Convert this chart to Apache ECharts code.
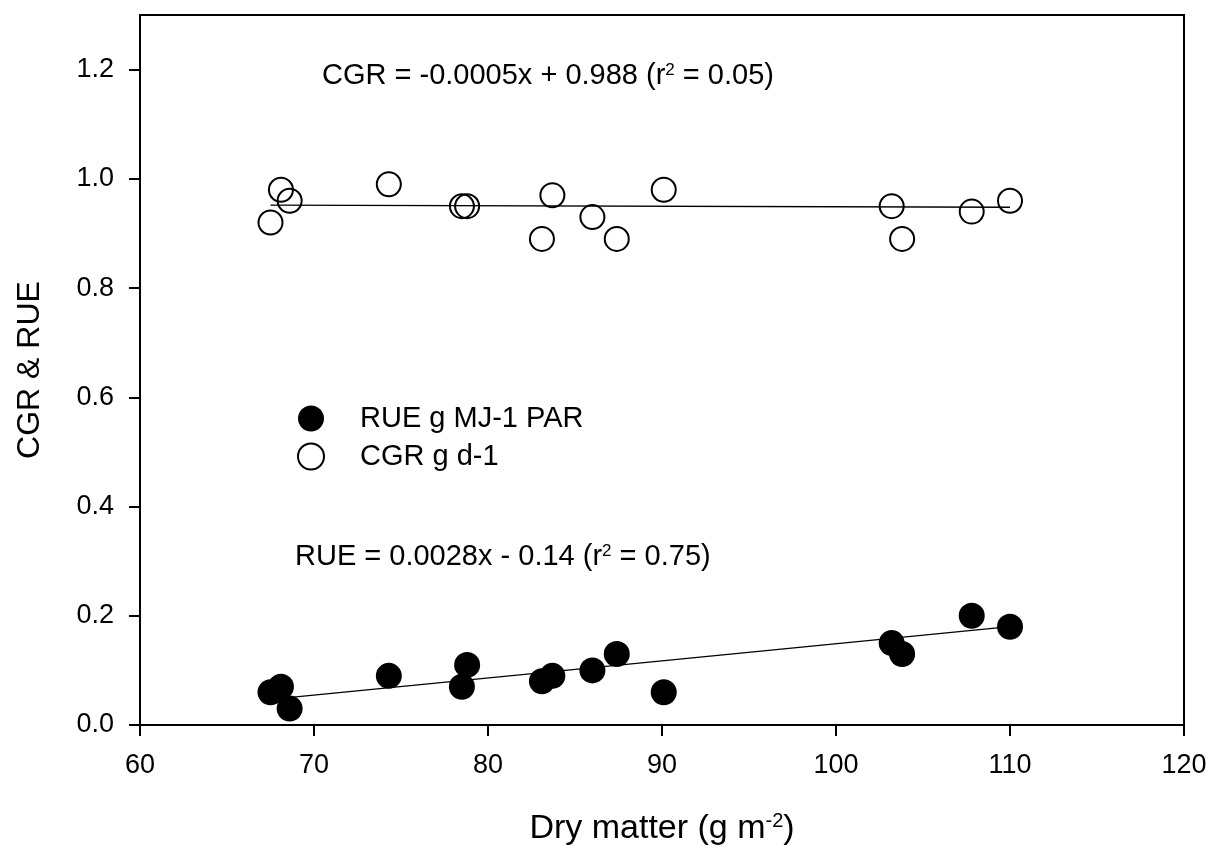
<!DOCTYPE html>
<html>
<head>
<meta charset="utf-8">
<script src="https://cdn.jsdelivr.net/npm/echarts@6/dist/echarts.min.js"></script>
<style>
html,body{margin:0;padding:0;background:#fff;}
#chart{width:1214px;height:851px;}
</style>
</head>
<body>
<div id="chart"></div>
<script>
// Data
const dryMatter = [67.5, 68.1, 68.6, 74.3, 78.5, 78.8, 83.1, 83.7, 86.0, 87.4, 90.1, 103.2, 103.8, 107.8, 110.0];
const rueValues = [0.06, 0.07, 0.03, 0.09, 0.07, 0.11, 0.08, 0.09, 0.10, 0.13, 0.06, 0.15, 0.13, 0.20, 0.18];
const cgrValues = [0.92, 0.98, 0.96, 0.99, 0.95, 0.95, 0.89, 0.97, 0.93, 0.89, 0.98, 0.95, 0.89, 0.94, 0.96];
const rueFitX = [67.5, 110.0];
const rueFitY = [0.047, 0.180];
const cgrFitX = [67.5, 110.0];
const cgrFitY = [0.952, 0.948];
const xTicks = [60, 70, 80, 90, 100, 110, 120];
const yTicks = [0.0, 0.2, 0.4, 0.6, 0.8, 1.0, 1.2];
const seriesNames = ['RUE g MJ-1 PAR', 'CGR g d-1'];

const zip = (xs, ys) => xs.map((x, i) => [x, ys[i]]);
const FONT = '"Liberation Sans", Arial, Helvetica, sans-serif';

const chart = echarts.init(document.getElementById('chart'), null, {renderer: 'canvas'});
chart.setOption({
  animation: false,
  backgroundColor: '#fff',
  textStyle: {fontFamily: FONT, color: '#000'},
  grid: {left: 140, right: 30, top: 15, bottom: 123, show: true, borderColor: '#000', borderWidth: 2},
  xAxis: {
    type: 'value', min: 60, max: 120, interval: 10,
    axisLine: {show: true, lineStyle: {color: '#000', width: 2}},
    axisTick: {show: true, inside: false, length: 11, lineStyle: {color: '#000', width: 2}, customValues: xTicks},
    axisLabel: {color: '#000', fontSize: 27, fontFamily: FONT, margin: 27, customValues: xTicks},
    splitLine: {show: false},
    name: '{t|Dry matter (g m}{s|-2}{t|)}',
    nameLocation: 'middle', nameGap: 86,
    nameTextStyle: {
      rich: {
        t: {fontSize: 34, fontFamily: FONT, color: '#000', lineHeight: 36},
        s: {fontSize: 20, fontFamily: FONT, color: '#000', lineHeight: 24, verticalAlign: 'top'}
      }
    }
  },
  yAxis: {
    type: 'value', min: 0, max: 1.3,
    axisLine: {show: true, lineStyle: {color: '#000', width: 2}},
    axisTick: {show: true, inside: false, length: 11, lineStyle: {color: '#000', width: 2}, customValues: yTicks},
    axisLabel: {color: '#000', fontSize: 27, fontFamily: FONT, margin: 26, customValues: yTicks,
      formatter: v => v.toFixed(1)},
    splitLine: {show: false},
    name: 'CGR & RUE', nameLocation: 'middle', nameGap: 94,
    nameTextStyle: {fontSize: 32, fontFamily: FONT, color: '#000'}
  },
  legend: {
    orient: 'vertical', left: 292, top: 399,
    itemWidth: 88, itemHeight: 26, itemGap: 9,
    textStyle: {fontSize: 29, fontFamily: FONT, color: '#000'},
    data: [
      {name: seriesNames[0], icon: 'circle', itemStyle: {color: '#000', borderWidth: 0}},
      {name: seriesNames[1], icon: 'circle', itemStyle: {color: 'rgba(255,255,255,0)', borderColor: '#000', borderWidth: 2}}
    ]
  },
  graphic: [
    {type: 'text', x: 322, y: 76, z: 100,
      style: {text: '{a|CGR = -0.0005x + 0.988 (r}{s|2}{a| = 0.05)}', verticalAlign: 'middle', align: 'left',
        rich: {a: {fontSize: 29, fontFamily: FONT, fill: '#000', lineHeight: 29},
               s: {fontSize: 17, fontFamily: FONT, fill: '#000', lineHeight: 20, verticalAlign: 'top'}}}},
    {type: 'text', x: 295, y: 557, z: 100,
      style: {text: '{a|RUE = 0.0028x - 0.14 (r}{s|2}{a| = 0.75)}', verticalAlign: 'middle', align: 'left',
        rich: {a: {fontSize: 29, fontFamily: FONT, fill: '#000', lineHeight: 29},
               s: {fontSize: 17, fontFamily: FONT, fill: '#000', lineHeight: 20, verticalAlign: 'top'}}}}
  ],
  series: [
    {
      name: seriesNames[0], type: 'scatter', data: zip(dryMatter, rueValues),
      symbol: 'circle', symbolSize: 26, itemStyle: {color: '#000', opacity: 1}, z: 3
    },
    {
      name: seriesNames[1], type: 'scatter', data: zip(dryMatter, cgrValues),
      symbol: 'circle', symbolSize: 24,
      itemStyle: {color: 'rgba(255,255,255,0)', borderColor: '#000', borderWidth: 2, opacity: 1}, z: 3
    },
    {
      name: 'RUE fit', type: 'line', data: zip(rueFitX, rueFitY), showSymbol: false, symbol: 'none',
      lineStyle: {color: '#000', width: 1.3}, z: 2, silent: true
    },
    {
      name: 'CGR fit', type: 'line', data: zip(cgrFitX, cgrFitY), showSymbol: false, symbol: 'none',
      lineStyle: {color: '#000', width: 1.3}, z: 2, silent: true
    }
  ]
});
</script>
</body>
</html>
